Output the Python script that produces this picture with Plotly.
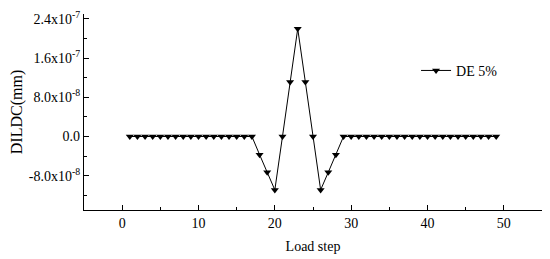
"""DILDC vs load step for DE 5% damage, redrawn with Plotly."""

import plotly.graph_objects as go

load_step = list(range(1, 50))
dildc = (
    [0.0] * 17
    + [-3.7e-8, -7.3e-8, -1.09e-7, 0.0, 1.11e-7, 2.2e-7, 1.11e-7, 0.0, -1.09e-7, -7.3e-8, -3.7e-8]
    + [0.0] * 21
)
y_tickvals = [-8.0e-8, 0.0, 8.0e-8, 1.6e-7, 2.4e-7]
y_ticktext = ["-8.0x10<sup>-8</sup>", "0.0", "8.0x10<sup>-8</sup>",
              "1.6x10<sup>-7</sup>", "2.4x10<sup>-7</sup>"]
x_tickvals = [0, 10, 20, 30, 40, 50]

FONT = "Liberation Serif, Times New Roman, serif"

fig = go.Figure(
    go.Scatter(
        x=load_step,
        y=dildc,
        mode="lines+markers",
        name="DE 5%",
        line={"color": "black", "width": 1},
        marker={"symbol": "triangle-down", "size": 7, "color": "black"},
    )
)

axis_common = dict(
    showline=True,
    linecolor="black",
    linewidth=1.2,
    ticks="inside",
    ticklen=5,
    tickcolor="black",
    showgrid=False,
    zeroline=False,
    mirror=False,
    automargin=False,
    tickfont={"family": FONT, "size": 14, "color": "black"},
)

fig.update_xaxes(
    **axis_common,
    range=[-5, 55],
    tickvals=x_tickvals,
    minor={"tickvals": [-5, 5, 15, 25, 35, 45, 55], "ticks": "inside", "ticklen": 3,
           "tickcolor": "black"},
    title={"text": "Load step", "font": {"family": FONT, "size": 14, "color": "black"},
           "standoff": 11},
)
fig.update_yaxes(
    **axis_common,
    range=[-1.5e-7, 2.5e-7],
    tickvals=y_tickvals,
    ticktext=y_ticktext,
    minor={"tickvals": [-1.2e-7, -4e-8, 4e-8, 1.2e-7, 2.0e-7], "ticks": "inside",
           "ticklen": 3, "tickcolor": "black"},
    title={"text": "DILDC(mm)", "font": {"family": FONT, "size": 16, "color": "black"},
           "standoff": 5},
)

# the page body keeps its default 8px margin, so the figure is sized to fit after it
fig.update_layout(
    width=542,
    height=251,
    margin={"l": 76, "r": 8, "t": 6, "b": 49},
    plot_bgcolor="white",
    paper_bgcolor="white",
    font={"family": FONT, "color": "black"},
    showlegend=True,
    legend={
        "x": 0.725,
        "y": 0.71,
        "xanchor": "left",
        "yanchor": "middle",
        "bgcolor": "rgba(0,0,0,0)",
        "itemwidth": 30,
        "font": {"family": FONT, "size": 14, "color": "black"},
    },
)

fig.write_html("out.html")
